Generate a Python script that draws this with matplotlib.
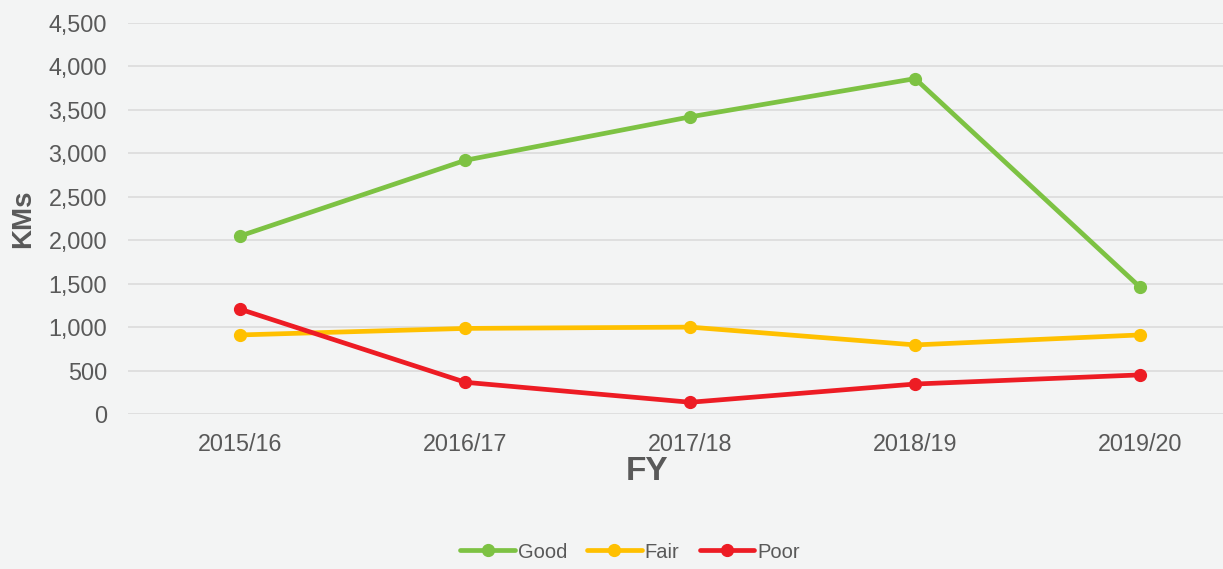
import matplotlib.pyplot as plt
from matplotlib.ticker import FuncFormatter

# values (KMs per financial year)
years = ["2015/16", "2016/17", "2017/18", "2018/19", "2019/20"]
good = [2050, 2920, 3420, 3860, 1460]
fair = [910, 985, 1000, 795, 910]
poor = [1205, 365, 135, 345, 450]

series = [("Good", good, "#7dc243"), ("Fair", fair, "#ffc000"), ("Poor", poor, "#ed1c24")]

plt.rcParams['font.family'] = ['Liberation Sans', 'DejaVu Sans']
bg = "#f3f4f4"
text_col = "#595959"

fig = plt.figure(figsize=(12.23, 5.69), dpi=100, facecolor=bg)
ax = fig.add_axes([128 / 1223, 155 / 569, 1095 / 1223, 391 / 569])
ax.set_facecolor(bg)

x = list(range(len(years)))
for name, vals, col in series:
    ax.plot(x, vals, color=col, lw=3.4, marker="o", ms=8.5, label=name,
            solid_capstyle="round", solid_joinstyle="round")

ax.set_ylim(0, 4500)
ax.set_yticks(range(0, 4501, 500))
ax.yaxis.set_major_formatter(FuncFormatter(lambda v, p: f"{int(v):,}"))
ax.set_xlim(-0.5, 4.369)
ax.set_xticks(x)
ax.set_xticklabels(years)

ax.grid(axis="y", color="#d9d9d9", lw=1.1)
ax.set_axisbelow(True)
for s in ax.spines.values():
    s.set_visible(False)
ax.tick_params(axis="both", length=0, labelsize=16.8, labelcolor=text_col)
ax.tick_params(axis="y", pad=15)
ax.tick_params(axis="x", pad=14)

fig.text(23 / 1223, 1 - 219 / 569, "KMs", rotation=90, fontsize=20, fontweight="bold",
         color=text_col, ha="center", va="center")
fig.text(647 / 1223, 1 - 471 / 569, "FY", fontsize=24, fontweight="bold",
         color=text_col, ha="center", va="center")

leg = fig.legend(loc="center", bbox_to_anchor=(630 / 1223, 1 - 552 / 569), ncol=3,
                 frameon=False, fontsize=14.5, handlelength=2.7, handletextpad=0.15,
                 columnspacing=1.0)
for t in leg.get_texts():
    t.set_color(text_col)

fig.savefig("out.png", dpi=100, facecolor=bg)
